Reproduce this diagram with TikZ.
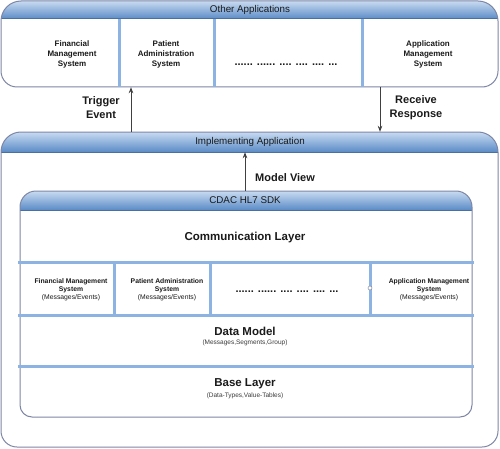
\documentclass[tikz,border=0pt]{standalone}
\usepackage{fontspec}
\setmainfont{Liberation Sans}
\usetikzlibrary{arrows.meta,calc}
\definecolor{hdrtop}{HTML}{C8DBF1}
\definecolor{hdrbot}{HTML}{5A8BC6}
\definecolor{hdrline}{HTML}{4A70A2}
\definecolor{bordc}{HTML}{7E86A6}
\definecolor{divc}{HTML}{8DB3E2}
\definecolor{txtc}{HTML}{1A1A1A}
\newcommand\boxpath[6]{(#1,#2+#6) -- (#1,#4-#5) arc[start angle=180,end angle=90,radius=#5] -- (#3-#5,#4) arc[start angle=90,end angle=0,radius=#5] -- (#3,#2+#6) arc[start angle=0,end angle=-90,radius=#6] -- (#1+#6,#2) arc[start angle=270,end angle=180,radius=#6] -- cycle}
% #1 x1, #2 ybot, #3 x2, #4 ytop, #5 Rtop, #6 rbot, #7 header bottom
\newcommand\hdrbox[7]{%
  \fill[white] \boxpath{#1}{#2}{#3}{#4}{#5}{#6};
  \begin{scope}
    \clip \boxpath{#1}{#2}{#3}{#4}{#5}{#6};
    \shade[top color=hdrtop, bottom color=hdrbot] (#1,#7) rectangle (#3,#4);
    \draw[hdrline, line width=1pt] (#1,#7) -- (#3,#7);
  \end{scope}
  \draw[bordc, line width=1pt] \boxpath{#1}{#2}{#3}{#4}{#5}{#6};
}
\begin{document}
\begin{tikzpicture}[x=1pt,y=1pt,
  hdrtxt/.style={font=\fontsize{9.8}{11}\selectfont, text=txtc, inner sep=0},
  modtxt/.style={font=\fontsize{8}{10}\selectfont\bfseries, align=center, text=txtc, inner sep=0},
  dotstxt/.style={font=\fontsize{11}{12}\selectfont\bfseries, text=txtc, inner sep=0},
  smod/.style={font=\fontsize{6.8}{8}\selectfont, align=center, text=txtc, inner sep=0},
  lbl/.style={font=\fontsize{11}{14}\selectfont\bfseries, align=center, text=txtc, inner sep=0},
  layer/.style={font=\fontsize{11.5}{13}\selectfont\bfseries, text=txtc, inner sep=0},
  sub/.style={font=\fontsize{6.5}{8}\selectfont, text=txtc!85, inner sep=0},
  divider/.style={divc, line width=3pt},
  arr/.style={draw=black!75, line width=0.8pt, -{Stealth[length=6pt,width=4.5pt]}},
  hold/.style={inner sep=0, draw=none}]
\useasboundingbox (0,0) rectangle (500,448);
\fill[white] (0,0) rectangle (500,448);

% ---------- Other Applications ----------
\hdrbox{1}{361}{498}{447}{20}{16}{429}
\node[hold, minimum width=497pt, minimum height=86pt] (other) at (249.5,404) {};
\draw[divider] (119,429) -- (119,361);
\draw[divider] (214,429) -- (214,361);
\draw[divider] (362,429) -- (362,361);
\node[hdrtxt] (otherh) at (250,438) {Other Applications};
\node[modtxt] (fms) at (72,394) {Financial\\Management\\System};
\node[modtxt] (pas) at (166,394) {Patient\\Administration\\System};
\node[dotstxt, anchor=base] (dots1) at (286,382) {...... ...... .... .... .... ...};
\node[modtxt] (ams) at (428,394) {Application\\Management\\System};

% ---------- Implementing Application ----------
\hdrbox{1}{1}{498}{316}{20}{16}{296}
\node[hold, minimum width=497pt, minimum height=315pt] (impl) at (249.5,158.5) {};
\node[hdrtxt] (implh) at (250,306) {Implementing Application};

% arrows between outer boxes
\coordinate (trigx) at (131,0);
\coordinate (recvx) at (380,0);
\draw[arr] (impl.north -| trigx) -- (other.south -| trigx);
\draw[arr] (other.south -| recvx) -- (impl.north -| recvx);
\node[lbl] (trig) at (101,340) {Trigger\\Event};
\node[lbl] (recv) at (416,340) {Receive\\Response};

% ---------- CDAC HL7 SDK ----------
\hdrbox{20}{31}{472}{257}{16}{12}{238}
\node[hold, minimum width=452pt, minimum height=226pt] (sdk) at (246,144) {};
\node[hdrtxt] (sdkh) at (245,248) {CDAC HL7 SDK};
\node[hold, minimum width=0pt, minimum height=20pt] (implhdr) at (245,306) {};
\draw[arr] (sdk.north -| implhdr) -- (implhdr.south);
\node[lbl, anchor=west] (mv) at (255,270) {Model View};

\node[layer] (comm) at (245,210) {Communication Layer};
\draw[divider] (18,186) -- (474,186);
\draw[divider] (18,133) -- (474,133);
\draw[divider] (18,82) -- (474,82);
\draw[divider] (114,186) -- (114,133);
\draw[divider] (210,186) -- (210,133);
\draw[divider] (370,186) -- (370,133);
\node[circle, draw=bordc, fill=white, inner sep=0, minimum size=4pt, line width=0.5pt] (port) at (370,160) {};

\node[smod] (m1) at (71,158) {\textbf{Financial Management}\\\textbf{System}\\(Messages/Events)};
\node[smod] (m2) at (167,158) {\textbf{Patient Administration}\\\textbf{System}\\(Messages/Events)};
\node[dotstxt, anchor=base] (dots2) at (287,156) {...... ...... .... .... .... ...};
\node[smod] (m4) at (429,158) {\textbf{Application Management}\\\textbf{System}\\(Messages/Events)};

\node[layer] (dm) at (245,117) {Data Model};
\node[sub] (dms) at (245,105) {(Messages,Segments,Group)};
\node[layer] (bl) at (245,64) {Base Layer};
\node[sub] (bls) at (245,52) {(Data-Types,Value-Tables)};
\end{tikzpicture}
\end{document}
